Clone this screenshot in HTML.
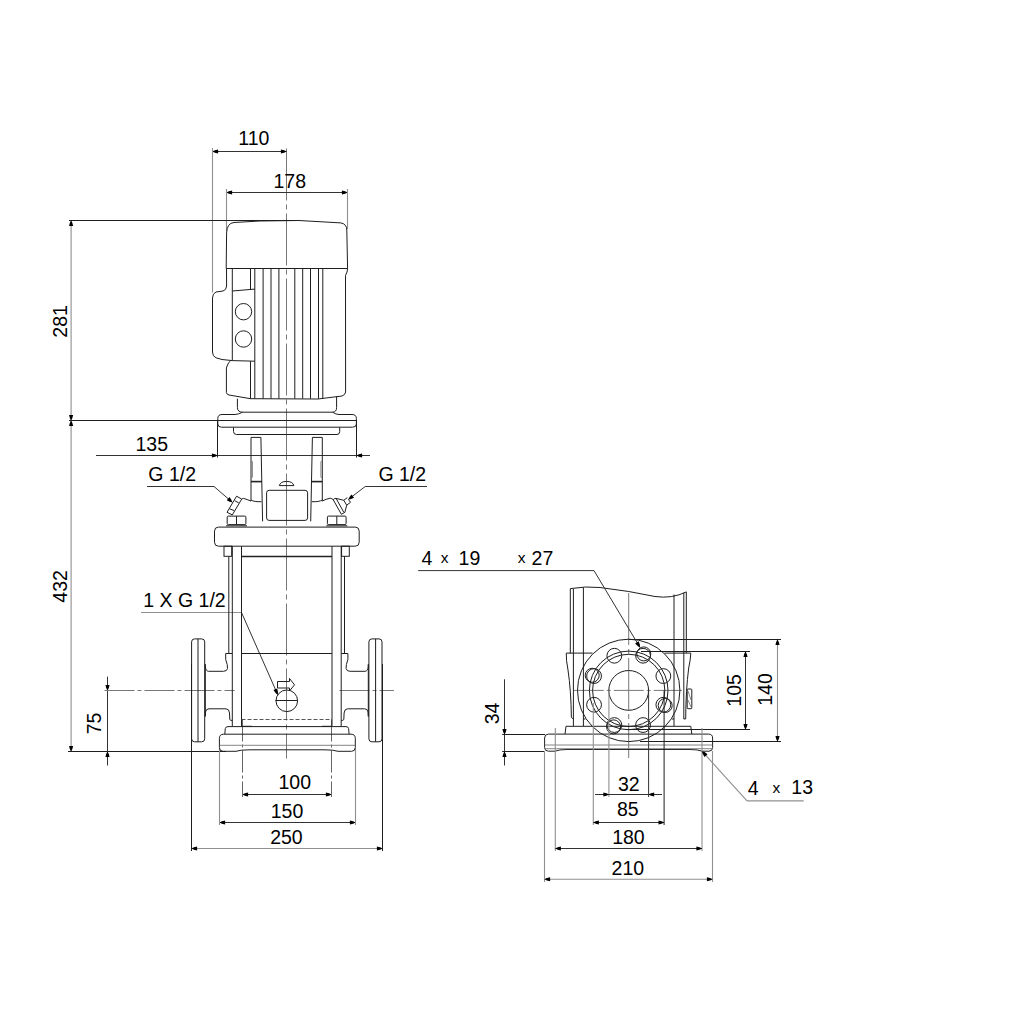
<!DOCTYPE html>
<html><head><meta charset="utf-8"><style>
html,body{margin:0;padding:0;background:#fff;width:1024px;height:1024px;overflow:hidden}
svg{display:block}
.o{fill:none;stroke:#1e1e1e;stroke-width:1}
.lt{fill:none;stroke:#777;stroke-width:0.9}
.ot{fill:none;stroke:#222;stroke-width:1.6}
.d{fill:none;stroke:#333;stroke-width:1}
.g{fill:none;stroke:#8f8f8f;stroke-width:1.1}
.cl{fill:none;stroke:#777;stroke-width:1;stroke-dasharray:52 4 5 4}
.cl2{fill:none;stroke:#777;stroke-width:1;stroke-dasharray:30 3 4 3}
.cl3{fill:none;stroke:#666;stroke-width:1;stroke-dasharray:22 3 3 3}
.dsh{fill:none;stroke:#444;stroke-width:0.9;stroke-dasharray:4 2}
.ah{fill:#000;stroke:none}
text{font-family:"Liberation Sans",sans-serif;fill:#000}
</style></head><body>
<svg width="1024" height="1024" viewBox="0 0 1024 1024">
<line class="cl" x1="286.5" y1="148.5" x2="286.5" y2="758.6"/>
<line class="d" x1="212.5" y1="151.5" x2="286.5" y2="151.5"/>
<polygon class="ah" points="212.5,151.5 214.9,150.2 218.1,149.45 218.1,153.55 214.9,152.8"/>
<polygon class="ah" points="286.5,151.5 284.1,152.8 280.9,153.55 280.9,149.45 284.1,150.2"/>
<line class="g" x1="212.5" y1="148" x2="212.5" y2="292.5"/>
<text x="253.9" y="145.3" font-size="19.5" text-anchor="middle">110</text>
<line class="d" x1="226.5" y1="192.5" x2="347.5" y2="192.5"/>
<polygon class="ah" points="226.5,192.5 228.9,191.2 232.1,190.45 232.1,194.55 228.9,193.8"/>
<polygon class="ah" points="347.5,192.5 345.1,193.8 341.9,194.55 341.9,190.45 345.1,191.2"/>
<line class="g" x1="226.5" y1="189" x2="226.5" y2="231"/>
<line class="g" x1="347.5" y1="189" x2="347.5" y2="229"/>
<text x="289.8" y="188" font-size="19.5" text-anchor="middle">178</text>
<line class="g" x1="71.1" y1="220.5" x2="71.1" y2="751.5"/>
<polygon class="ah" points="71.1,220.5 72.4,222.9 73.15,226.1 69.05,226.1 69.8,222.9"/>
<polygon class="ah" points="71.1,420.5 69.8,418.1 69.05,414.9 73.15,414.9 72.4,418.1"/>
<polygon class="ah" points="71.1,420.5 72.4,422.9 73.15,426.1 69.05,426.1 69.8,422.9"/>
<polygon class="ah" points="71.1,751.5 69.8,749.1 69.05,745.9 73.15,745.9 72.4,749.1"/>
<line class="o" x1="69" y1="220.5" x2="299" y2="220.5"/>
<line class="o" x1="69" y1="420.5" x2="218" y2="420.5"/>
<line class="o" x1="68" y1="751.5" x2="226" y2="751.5"/>
<text x="67" y="321.4" font-size="19.5" text-anchor="middle" transform="rotate(-90 67 321.4)">281</text>
<text x="67" y="586.4" font-size="19.5" text-anchor="middle" transform="rotate(-90 67 586.4)">432</text>
<line class="d" x1="107.5" y1="676.6" x2="107.5" y2="765.5"/>
<polygon class="ah" points="107.5,690.5 106.2,688.1 105.45,684.9 109.55,684.9 108.8,688.1"/>
<polygon class="ah" points="107.5,751.5 108.8,753.9 109.55,757.1 105.45,757.1 106.2,753.9"/>
<line class="cl2" x1="104.5" y1="690.5" x2="234.6" y2="690.5"/>
<line class="cl2" x1="339.5" y1="690.5" x2="394" y2="690.5"/>
<text x="100.8" y="723.5" font-size="19.5" text-anchor="middle" transform="rotate(-90 100.8 723.5)">75</text>
<line class="d" x1="96" y1="455.5" x2="370" y2="455.5"/>
<polygon class="ah" points="217.5,455.5 215.1,456.8 211.9,457.55 211.9,453.45 215.1,454.2"/>
<polygon class="ah" points="356.5,455.5 358.9,454.2 362.1,453.45 362.1,457.55 358.9,456.8"/>
<line class="o" x1="217.5" y1="420.5" x2="217.5" y2="457.5"/>
<line class="o" x1="356.5" y1="420.5" x2="356.5" y2="457.5"/>
<text x="151.75" y="450.8" font-size="19.5" text-anchor="middle">135</text>
<line class="d" x1="242.5" y1="794.5" x2="331.5" y2="794.5"/>
<polygon class="ah" points="242.5,794.5 244.9,793.2 248.1,792.45 248.1,796.55 244.9,795.8"/>
<polygon class="ah" points="331.5,794.5 329.1,795.8 325.9,796.55 325.9,792.45 329.1,793.2"/>
<line class="cl3" x1="242.5" y1="719.5" x2="242.5" y2="797"/>
<line class="cl3" x1="331.5" y1="719.5" x2="331.5" y2="797"/>
<text x="294.8" y="789.3" font-size="19.5" text-anchor="middle">100</text>
<line class="d" x1="219.5" y1="822.5" x2="355.5" y2="822.5"/>
<polygon class="ah" points="219.5,822.5 221.9,821.2 225.1,820.45 225.1,824.55 221.9,823.8"/>
<polygon class="ah" points="355.5,822.5 353.1,823.8 349.9,824.55 349.9,820.45 353.1,821.2"/>
<line class="g" x1="219.5" y1="748" x2="219.5" y2="825"/>
<line class="g" x1="355.5" y1="748" x2="355.5" y2="825"/>
<text x="287" y="818.2" font-size="19.5" text-anchor="middle">150</text>
<line class="g" x1="191.5" y1="848.5" x2="382.5" y2="848.5"/>
<polygon class="ah" points="191.5,848.5 193.9,847.2 197.1,846.45 197.1,850.55 193.9,849.8"/>
<polygon class="ah" points="382.5,848.5 380.1,849.8 376.9,850.55 376.9,846.45 380.1,847.2"/>
<line class="o" x1="191.5" y1="664" x2="191.5" y2="851"/>
<line class="o" x1="382.5" y1="664" x2="382.5" y2="851"/>
<text x="286.4" y="844.2" font-size="19.5" text-anchor="middle">250</text>
<text x="172.2" y="480.5" font-size="19.5" text-anchor="middle">G 1/2</text>
<line class="d" x1="147" y1="486.5" x2="214" y2="486.5"/>
<line class="d" x1="214" y1="486.5" x2="232.3" y2="502.3"/>
<polygon class="ah" points="232.3,502.3 229.63,501.72 226.76,500.3 229.51,497.12 231.33,499.75"/>
<text x="402.25" y="480.9" font-size="19.5" text-anchor="middle">G 1/2</text>
<line class="d" x1="365.2" y1="486.5" x2="427" y2="486.5"/>
<line class="d" x1="365.2" y1="486.5" x2="348.4" y2="499.4"/>
<polygon class="ah" points="348.4,499.4 349.51,496.91 351.48,494.38 354.04,497.72 351.1,498.97"/>
<text x="184.5" y="607" font-size="19.5" text-anchor="middle">1 X G 1/2</text>
<line class="g" x1="141" y1="612.5" x2="241.5" y2="612.5"/>
<line class="d" x1="241.5" y1="612.5" x2="277.75" y2="694.7"/>
<polygon class="ah" points="277.75,694.7 275.59,693.03 273.45,690.04 277.2,688.38 277.97,691.98"/>
<path class="o" d="M226.2,268.5 L226.6,233 Q227,223 234,222.5 L259.8,221 L298.75,220.5 L340.9,222.9 Q346.8,224 346.8,230 L347.6,268.5 Z"/>
<path class="o" d="M226.5,268.5 L226.6,286 Q226.5,290 223,291 L216,292 Q212.5,293.5 212.5,298 L212.5,352 Q212.5,356.5 216,357.8 L222,359.5 L232.3,360.6 L254.8,361.2"/>
<path class="o" d="M232.3,268.5 L232.3,360.6 M232.3,291 L254.8,289.1"/>
<line class="o" x1="250.5" y1="268.5" x2="250.5" y2="289.2"/>
<line class="o" x1="250.5" y1="361.2" x2="250.5" y2="398.7"/>
<circle class="o" cx="243.5" cy="311.7" r="8.2"/>
<circle class="o" cx="243.5" cy="339" r="8.2"/>
<path class="o" d="M230.5,361 Q228.5,362 227.5,365 L226.4,368 L226.4,392.5 Q226.8,394.5 229,395 L250.5,398.7"/>
<line class="o" x1="254.8" y1="268.5" x2="254.8" y2="398.7"/>
<line class="o" x1="263.1" y1="268.5" x2="263.1" y2="398.7"/>
<line class="o" x1="271" y1="268.5" x2="271" y2="398.7"/>
<line class="o" x1="278.9" y1="268.5" x2="278.9" y2="398.7"/>
<line class="o" x1="294.8" y1="268.5" x2="294.8" y2="398.7"/>
<line class="o" x1="302.7" y1="268.5" x2="302.7" y2="398.7"/>
<line class="o" x1="310.5" y1="268.5" x2="310.5" y2="398.7"/>
<line class="o" x1="318.5" y1="268.5" x2="318.5" y2="398.7"/>
<line class="o" x1="322.8" y1="268.5" x2="322.8" y2="398.7"/>
<path class="o" d="M347.6,268.5 Q347.5,272 345.5,275.5 L345.6,392 Q345.3,395 342,396 L318,399 L250.5,398.7"/>
<path class="o" d="M237.4,398.7 L237.4,407.5 Q237.6,412.2 242.5,412.2 L332.5,412.2 Q336.6,412.2 336.6,407.5 L336.6,396.5"/>
<path class="o" d="M242.5,412.2 Q238,414.5 235,414.5 L222,414.5 Q217.8,414.5 217.8,418.5 L217.8,424 Q217.8,427.2 221.5,427.2 L352.5,427.2 Q356.4,427.2 356.4,424 L356.4,418.5 Q356.4,414.5 352,414.5 L339,414.5 Q336,414.5 332.5,412.2"/>
<line class="o" x1="217.8" y1="420.5" x2="356.4" y2="420.5"/>
<path class="o" d="M233.5,427.5 L233.5,431.5 Q233.6,434.5 236.5,434.5 L337,434.5 Q339.7,434.5 339.7,431.5 L339.7,427.5"/>
<path class="o" d="M251,501.1 L251,437.4 L260.9,437.4 L262.6,521.4"/>
<path class="o" d="M322.3,501.1 L322.3,437.4 L312.4,437.4 L310.7,521.4"/>
<line class="ot" x1="251" y1="481.6" x2="262" y2="481.6"/>
<line class="ot" x1="311.3" y1="481.6" x2="322.3" y2="481.6"/>
<path class="lt" d="M251,461 L252.4,461.6 L252.4,477.3 L251,477.9 M322.3,461 L320.9,461.6 L320.9,477.3 L322.3,477.9"/>
<path class="o" d="M251,500 Q254,502 261.5,501.7 M322.3,500 Q319.3,502 311.8,501.7"/>
<path class="o" d="M251,501 Q247,499.5 243.4,498.35 L241.7,499.1"/>
<path class="o" d="M322.3,501 Q326,499 330.3,498.2 Q332,498.5 333.2,499.7 Q335,498 336.1,498.4 L343.75,500.3 L347.3,497.6"/>
<rect class="o" x="266.6" y="490.3" width="41" height="30.1" rx="2.5"/>
<path class="o" d="M279.3,485.6 Q280.5,481.4 286.6,481.4 Q292.7,481.4 293.9,485.6 Z"/>
<path class="o" d="M236.6,496.2 L241.7,499.1 L232.3,514.9 L227,512.3 Z M234.65,500.7 L238.75,502.9 M229.4,508.75 L234.1,510.5"/>
<path class="o" d="M333.2,499.7 L341.4,514.3 L344.9,512.3 L346.7,505.2 L343.75,500.3 M336.1,498.4 L343.8,512.3 M346.7,505.2 L350.5,502.3 L348.4,499.4"/>
<rect class="o" x="227.2" y="516.1" width="18.7" height="8.5" rx="1"/>
<line class="o" x1="236.5" y1="516.1" x2="236.5" y2="524.6"/>
<line class="o" x1="226" y1="525.8" x2="247" y2="525.8"/>
<rect class="o" x="327.4" y="516.1" width="18.7" height="8.5" rx="1"/>
<line class="o" x1="336.8" y1="516.1" x2="336.8" y2="524.6"/>
<line class="o" x1="326.3" y1="525.8" x2="347.3" y2="525.8"/>
<rect class="o" x="214.5" y="527.1" width="144.7" height="19.1" rx="4"/>
<rect class="o" x="224" y="546.2" width="7.7" height="10.1" rx="0"/>
<rect class="o" x="341.6" y="546.2" width="7.7" height="10.1" rx="0"/>
<line class="o" x1="228.8" y1="556.3" x2="228.8" y2="653.5"/>
<line class="o" x1="232.3" y1="546.2" x2="232.3" y2="726"/>
<line class="o" x1="241.5" y1="546.2" x2="241.5" y2="726"/>
<line class="o" x1="344.5" y1="556.3" x2="344.5" y2="653.5"/>
<line class="o" x1="341.2" y1="546.2" x2="341.2" y2="726"/>
<line class="o" x1="332" y1="546.2" x2="332" y2="726"/>
<line class="ot" x1="241.5" y1="556.5" x2="332" y2="556.5"/>
<line class="o" x1="241.5" y1="653.5" x2="332" y2="653.5"/>
<line class="dsh" x1="241.5" y1="719.5" x2="332" y2="719.5"/>
<line class="o" x1="241.5" y1="726.3" x2="252" y2="726.3"/>
<line class="o" x1="322" y1="726.3" x2="332" y2="726.3"/>
<path class="o" d="M232.3,653.5 L225.7,653.5 L225.7,659.5 Q227.8,665 227.5,668.5 Q227,671.3 223.5,671.3 L208.5,671.3 Q205.6,671 205.3,666.5 L205.3,664.3 M205.3,716.4 L205.5,712 Q206,708.8 209,708.8 L226,708.8 Q229.3,709 229.5,713 L229.8,719.6 Q230.5,720.5 232.3,720.5"/>
<g transform="translate(573.6,0) scale(-1,1)"><path class="o" d="M232.3,653.5 L225.7,653.5 L225.7,659.5 Q227.8,665 227.5,668.5 Q227,671.3 223.5,671.3 L208.5,671.3 Q205.6,671 205.3,666.5 L205.3,664.3 M205.3,716.4 L205.5,712 Q206,708.8 209,708.8 L226,708.8 Q229.3,709 229.5,713 L229.8,719.6 Q230.5,720.5 232.3,720.5"/></g>
<rect class="o" x="191.6" y="638.9" width="13.1" height="102.9" rx="3"/>
<line class="o" x1="198" y1="638.9" x2="198" y2="741.8"/>
<line class="o" x1="205.3" y1="664.3" x2="205.3" y2="716.4"/>
<rect class="o" x="368.9" y="638.9" width="13.1" height="102.9" rx="3"/>
<line class="o" x1="375.6" y1="638.9" x2="375.6" y2="741.8"/>
<line class="o" x1="368.3" y1="664.3" x2="368.3" y2="716.4"/>
<circle class="o" cx="286.8" cy="700.8" r="10.8"/>
<line class="o" x1="275.5" y1="700.5" x2="297.5" y2="700.5"/>
<path class="o" d="M277.5,688 L277.5,681.5 L289.5,681.5 L289.5,678.5 L294.5,684.8 L289.5,691 L289.5,688 Z"/>
<path class="o" d="M224.8,734.2 L225.3,728.5 Q225.8,726.6 228,726.6 L346,726.6 Q348.2,726.6 348.6,728.5 L349.1,734.2"/>
<path class="o" d="M223.5,734.2 L351,734.2 Q355.3,734.2 355.3,738.5 L355.3,747.5 Q355.3,751.3 351.5,751.3 L338,751.3 Q334,749.8 324,749.8 L250,749.8 Q240,749.8 236,751.3 L223,751.3 Q219.4,751.3 219.4,747.5 L219.4,738.5 Q219.4,734.2 223.5,734.2 Z"/>
<line class="lt" x1="219.6" y1="745.3" x2="355.1" y2="745.3"/>
<line class="cl" x1="628.7" y1="593" x2="628.7" y2="758"/>
<line class="cl2" x1="573.75" y1="690.4" x2="681.9" y2="690.4"/>
<circle class="o" cx="628.7" cy="690.4" r="51.2"/>
<circle class="o" cx="628.7" cy="690.4" r="39.3"/>
<circle class="o" cx="628.7" cy="690.4" r="36.1"/>
<circle class="o" cx="628.7" cy="690.4" r="19.9"/>
<circle class="o" cx="663.35" cy="704.75" r="7.4"/>
<circle class="o" cx="643.05" cy="725.05" r="7.4"/>
<circle class="o" cx="614.35" cy="725.05" r="7.4"/>
<circle class="o" cx="594.05" cy="704.75" r="7.4"/>
<circle class="o" cx="594.05" cy="676.05" r="7.4"/>
<circle class="o" cx="614.35" cy="655.75" r="7.4"/>
<circle class="o" cx="643.05" cy="655.75" r="7.4"/>
<circle class="o" cx="663.35" cy="676.05" r="7.4"/>
<circle class="o" cx="665.19" cy="705.52" r="7"/>
<circle class="o" cx="613.58" cy="726.89" r="7"/>
<circle class="o" cx="592.21" cy="675.28" r="7"/>
<circle class="o" cx="643.82" cy="653.91" r="7"/>
<path class="o" d="M570.3,653.4 L570.3,588.6 Q586,586 600,587.5 Q630,591 655,596.5 Q672,599 686.3,591.9 L686.3,653"/>
<line class="o" x1="573.4" y1="589" x2="573.4" y2="726"/>
<line class="o" x1="583.4" y1="587.5" x2="583.4" y2="726"/>
<line class="o" x1="674" y1="594.5" x2="674" y2="726"/>
<line class="o" x1="683.8" y1="592.8" x2="683.8" y2="719"/>
<line class="o" x1="566.25" y1="653.1" x2="592.5" y2="653.1"/>
<line class="o" x1="664.5" y1="653.1" x2="690.8" y2="653.1"/>
<path class="o" d="M566.25,653.1 Q566,660 568,670 Q571,690 571.4,717.5 L573.4,719"/>
<path class="o" d="M690.8,653.1 Q690.5,660 688.7,668 Q685.8,690 685.7,718.9 L683.8,719"/>
<line class="o" x1="583.4" y1="719" x2="585.5" y2="719"/>
<line class="o" x1="671.9" y1="719" x2="674" y2="719"/>
<rect class="o" x="687.2" y="689" width="4.6" height="19.7" rx="0.8"/>
<path class="lt" d="M688,691 L691,700 M688,700 L691,707"/>
<path class="o" d="M565,734.1 L566,726.3 L690.8,726.3 L691.8,734.1"/>
<path class="o" d="M548.5,734.1 L708.5,734.1 Q712.6,734.1 712.6,738 L712.6,747.5 Q712.6,751.2 709,751.2 L702,751.2 Q698,749.5 690,749.5 L567,749.5 Q559,749.5 555,751.2 L548.5,751.2 Q544.6,751.2 544.6,747.5 L544.6,738 Q544.6,734.1 548.5,734.1 Z"/>
<line class="lt" x1="544.8" y1="745" x2="712.4" y2="745"/>
<line class="lt" x1="544.8" y1="748.7" x2="712.4" y2="748.7"/>
<line class="d" x1="745.5" y1="651.5" x2="745.5" y2="729.5"/>
<polygon class="ah" points="745.5,651.5 746.8,653.9 747.55,657.1 743.45,657.1 744.2,653.9"/>
<polygon class="ah" points="745.5,729.5 744.2,727.1 743.45,723.9 747.55,723.9 746.8,727.1"/>
<line class="o" x1="641" y1="651.5" x2="750" y2="651.5"/>
<line class="o" x1="625.7" y1="729.5" x2="750" y2="729.5"/>
<line class="g" x1="777.5" y1="639.5" x2="777.5" y2="741.5"/>
<polygon class="ah" points="777.5,639.5 778.8,641.9 779.55,645.1 775.45,645.1 776.2,641.9"/>
<polygon class="ah" points="777.5,741.5 776.2,739.1 775.45,735.9 779.55,735.9 778.8,739.1"/>
<line class="o" x1="628.7" y1="639.5" x2="781" y2="639.5"/>
<line class="o" x1="640" y1="741.5" x2="781" y2="741.5"/>
<text x="741.2" y="690.4" font-size="19.5" text-anchor="middle" transform="rotate(-90 741.2 690.4)">105</text>
<text x="772.3" y="689.5" font-size="19.5" text-anchor="middle" transform="rotate(-90 772.3 689.5)">140</text>
<line class="d" x1="504.5" y1="679.3" x2="504.5" y2="765.5"/>
<polygon class="ah" points="504.5,734.5 503.2,732.1 502.45,728.9 506.55,728.9 505.8,732.1"/>
<polygon class="ah" points="504.5,751.5 505.8,753.9 506.55,757.1 502.45,757.1 503.2,753.9"/>
<line class="o" x1="502.2" y1="734.5" x2="545" y2="734.5"/>
<line class="o" x1="502.2" y1="751.5" x2="545" y2="751.5"/>
<text x="499" y="713.5" font-size="19.5" text-anchor="middle" transform="rotate(-90 499 713.5)">34</text>
<line class="g" x1="608.9" y1="690.4" x2="608.9" y2="797"/>
<line class="d" x1="648.6" y1="690.4" x2="648.6" y2="797"/>
<line class="d" x1="595" y1="794.5" x2="662" y2="794.5"/>
<polygon class="ah" points="608.9,794.5 606.5,795.8 603.3,796.55 603.3,792.45 606.5,793.2"/>
<polygon class="ah" points="648.6,794.5 651,793.2 654.2,792.45 654.2,796.55 651,795.8"/>
<text x="628.75" y="790.7" font-size="19.5" text-anchor="middle">32</text>
<line class="g" x1="593.3" y1="703" x2="593.3" y2="825"/>
<line class="o" x1="664.1" y1="690.4" x2="664.1" y2="825"/>
<line class="d" x1="593.3" y1="822.5" x2="664.1" y2="822.5"/>
<polygon class="ah" points="593.3,822.5 595.7,821.2 598.9,820.45 598.9,824.55 595.7,823.8"/>
<polygon class="ah" points="664.1,822.5 661.7,823.8 658.5,824.55 658.5,820.45 661.7,821.2"/>
<text x="627.75" y="816.2" font-size="19.5" text-anchor="middle">85</text>
<line class="g" x1="555.3" y1="728" x2="555.3" y2="851"/>
<line class="g" x1="702" y1="728" x2="702" y2="851"/>
<line class="d" x1="555.3" y1="848.5" x2="702" y2="848.5"/>
<polygon class="ah" points="555.3,848.5 557.7,847.2 560.9,846.45 560.9,850.55 557.7,849.8"/>
<polygon class="ah" points="702,848.5 699.6,849.8 696.4,850.55 696.4,846.45 699.6,847.2"/>
<text x="628.45" y="844.3" font-size="19.5" text-anchor="middle">180</text>
<line class="g" x1="544.5" y1="751" x2="544.5" y2="882"/>
<line class="g" x1="712.5" y1="751" x2="712.5" y2="882"/>
<line class="g" x1="544.5" y1="879.2" x2="712.5" y2="879.2"/>
<polygon class="ah" points="544.5,879.2 546.9,877.9 550.1,877.15 550.1,881.25 546.9,880.5"/>
<polygon class="ah" points="712.5,879.2 710.1,880.5 706.9,881.25 706.9,877.15 710.1,877.9"/>
<text x="627.85" y="875.3" font-size="19.5" text-anchor="middle">210</text>
<line class="g" x1="702" y1="751.2" x2="747" y2="800.9"/>
<line class="g" x1="747" y1="800.9" x2="803.7" y2="800.9"/>
<polygon class="ah" points="702,751.2 704.57,752.11 707.55,754.27 704.51,757.02 702.65,753.85"/>
<text x="753.1" y="795.2" font-size="19.5" text-anchor="middle">4</text>
<text x="776.4" y="793.4" font-size="15.5" text-anchor="middle">x</text>
<text x="802.2" y="794.2" font-size="19.5" text-anchor="middle">13</text>
<line class="d" x1="418.2" y1="570.6" x2="594" y2="570.6"/>
<line class="d" x1="594" y1="570.6" x2="640" y2="647.5"/>
<polygon class="ah" points="640,647.5 637.65,646.11 635.16,643.4 638.68,641.3 639.88,644.77"/>
<text x="427" y="565.2" font-size="19.5" text-anchor="middle">4</text>
<text x="444.7" y="563.3" font-size="15.5" text-anchor="middle">x</text>
<text x="469.45" y="565.2" font-size="19.5" text-anchor="middle">19</text>
<text x="521.6" y="563.3" font-size="15.5" text-anchor="middle">x</text>
<text x="542.45" y="565.2" font-size="19.5" text-anchor="middle">27</text>
</svg>
</body></html>
